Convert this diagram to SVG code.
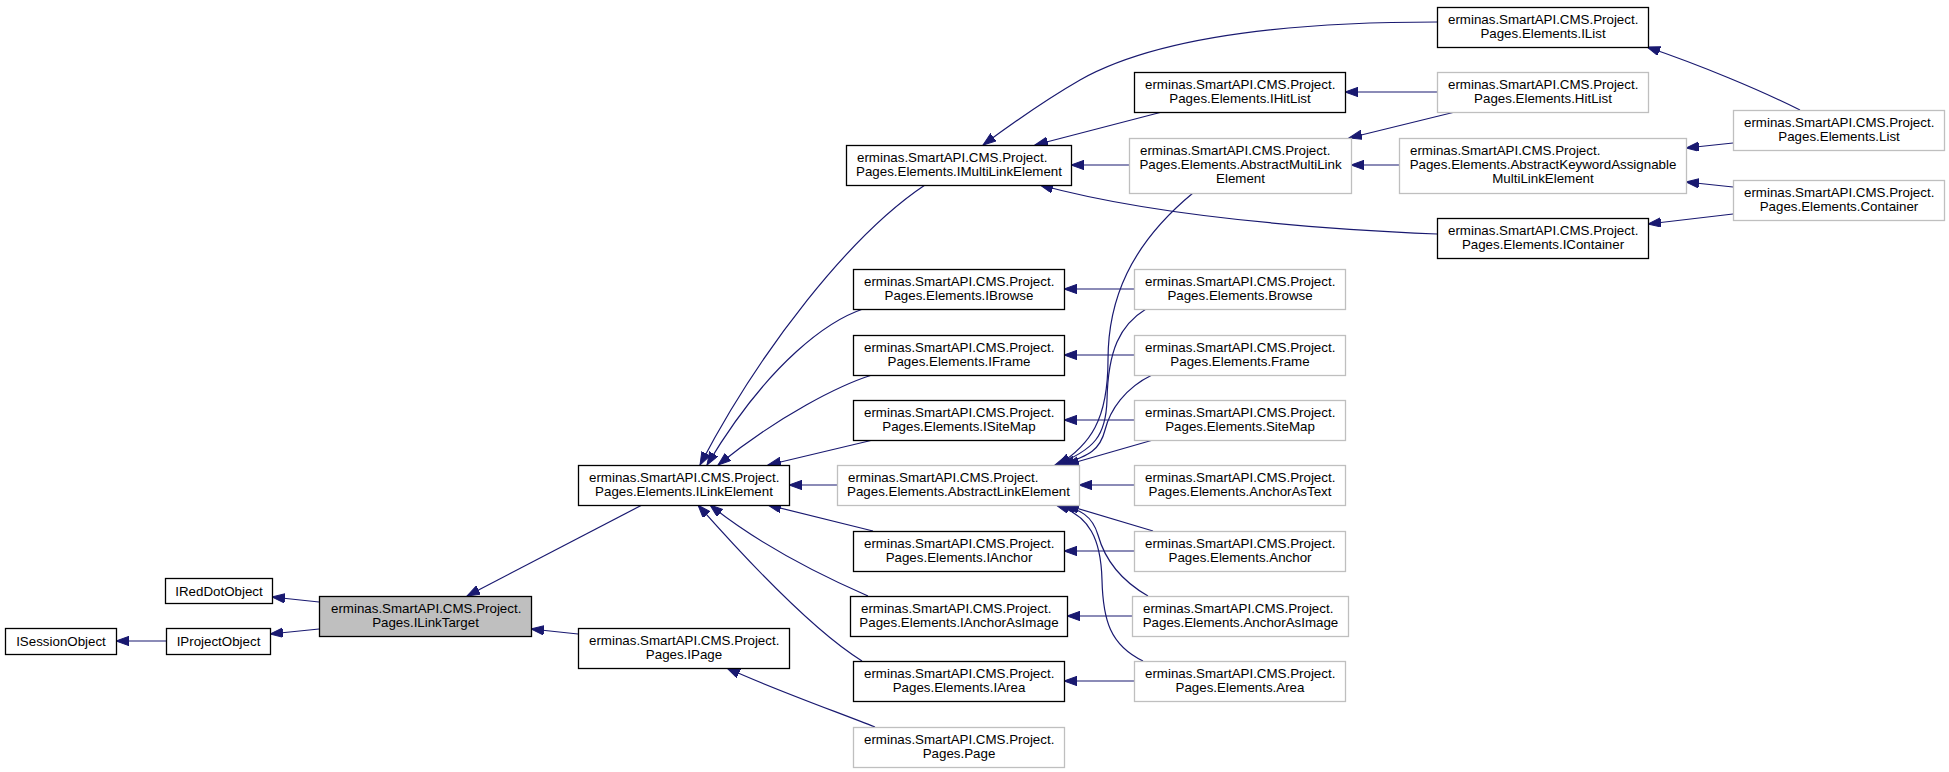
<svg xmlns="http://www.w3.org/2000/svg" width="1949" height="772" viewBox="0 0 1949 772">
<style>
text{font-family:"Liberation Sans",Arial,sans-serif;font-size:13.33px;fill:#000}
.m{text-anchor:middle}
.n rect{fill:#fff;stroke:#000;stroke-width:1.3}
.g rect{fill:#fff;stroke:#bfbfbf;stroke-width:1.3}
.c rect{fill:#bfbfbf;stroke:#000;stroke-width:1.3}
#edges path{fill:none;stroke:#191970;stroke-width:1.2;marker-end:url(#arr)}
</style>
<defs>
<marker id="arr" markerUnits="userSpaceOnUse" markerWidth="14" markerHeight="10" refX="13" refY="4.67" orient="auto">
<path d="M0,0 L13,4.67 L0,9.33 z" fill="#191970" stroke="#191970" stroke-width="1"/>
</marker>
</defs>
<rect width="1949" height="772" fill="#fff"/>
<g id="edges">
<path d="M319,602 L272,597"/>
<path d="M319,629 L270,634"/>
<path d="M166,641 L116,641"/>
<path d="M642,505 L467,596"/>
<path d="M578,634 L531,629"/>
<path d="M875,727 C840,713 770,688 727,668"/>
<path d="M925,185 C850,235 760,350 700,465"/>
<path d="M863,309 C830,320 770,360 707,465"/>
<path d="M872,375 C840,385 780,415 718,465"/>
<path d="M873,440 L768,465"/>
<path d="M837,485 L789,485"/>
<path d="M873,531 L768,505"/>
<path d="M868,596 C820,575 760,545 710,505"/>
<path d="M862,661 C820,635 760,575 698,505"/>
<path d="M1437,22 C1300,22 1160,35 1080,80 C1040,103 1010,125 983,145"/>
<path d="M1162,112 L1035,145"/>
<path d="M1129,165 L1071,165"/>
<path d="M1437,234 C1300,228 1150,215 1040,185"/>
<path d="M1134,289 L1064,289"/>
<path d="M1134,355 L1064,355"/>
<path d="M1134,420 L1064,420"/>
<path d="M1193,193 C1130,245 1108,300 1108,360 C1108,420 1090,445 1058,465"/>
<path d="M1146,309 C1120,325 1108,350 1107,400 C1106,435 1095,450 1055,465"/>
<path d="M1152,375 C1125,388 1110,410 1105,430 C1100,450 1090,455 1062,465"/>
<path d="M1153,440 L1066,465"/>
<path d="M1134,485 L1079,485"/>
<path d="M1153,531 L1066,505"/>
<path d="M1148,596 C1120,580 1105,560 1098,535 C1092,515 1080,510 1062,505"/>
<path d="M1143,661 C1110,645 1103,620 1102,580 C1101,540 1090,515 1056,505"/>
<path d="M1134,551 L1064,551"/>
<path d="M1132,616 L1067,616"/>
<path d="M1134,681 L1064,681"/>
<path d="M1437,92 L1345,92"/>
<path d="M1455,112 L1349,138"/>
<path d="M1399,165 L1351,165"/>
<path d="M1800,110 C1760,90 1700,65 1647,47"/>
<path d="M1733,143 L1686,148"/>
<path d="M1733,187 L1686,182"/>
<path d="M1733,214 L1648,224"/>
</g>
<g id="ISessionObject" class="n"><rect x="5.5" y="628.5" width="111" height="26"/><text class="m" x="61" y="646">ISessionObject</text></g>
<g id="IProjectObject" class="n"><rect x="166.5" y="628.5" width="104" height="26"/><text class="m" x="218.5" y="646">IProjectObject</text></g>
<g id="IRedDotObject" class="n"><rect x="165.5" y="578.5" width="107" height="25"/><text class="m" x="219" y="595.5">IRedDotObject</text></g>
<g id="ILinkTarget" class="c"><rect x="319.5" y="596.5" width="212" height="40"/><text x="331" y="613">erminas.SmartAPI.CMS.Project.</text><text class="m" x="425.5" y="627">Pages.ILinkTarget</text></g>
<g id="ILinkElement" class="n"><rect x="578.5" y="465.5" width="211" height="40"/><text x="589" y="482">erminas.SmartAPI.CMS.Project.</text><text class="m" x="684" y="496">Pages.Elements.ILinkElement</text></g>
<g id="IPage" class="n"><rect x="578.5" y="628.5" width="211" height="40"/><text x="589" y="645">erminas.SmartAPI.CMS.Project.</text><text class="m" x="684" y="659">Pages.IPage</text></g>
<g id="IMultiLinkElement" class="n"><rect x="846.5" y="145.5" width="225" height="40"/><text x="857" y="162">erminas.SmartAPI.CMS.Project.</text><text class="m" x="959" y="176">Pages.Elements.IMultiLinkElement</text></g>
<g id="IBrowse" class="n"><rect x="853.5" y="269.5" width="211" height="40"/><text x="864" y="286">erminas.SmartAPI.CMS.Project.</text><text class="m" x="959" y="300">Pages.Elements.IBrowse</text></g>
<g id="IFrame" class="n"><rect x="853.5" y="335.5" width="211" height="40"/><text x="864" y="352">erminas.SmartAPI.CMS.Project.</text><text class="m" x="959" y="366">Pages.Elements.IFrame</text></g>
<g id="ISiteMap" class="n"><rect x="853.5" y="400.5" width="211" height="40"/><text x="864" y="417">erminas.SmartAPI.CMS.Project.</text><text class="m" x="959" y="431">Pages.Elements.ISiteMap</text></g>
<g id="AbstractLinkElement" class="g"><rect x="837.5" y="465.5" width="242" height="40"/><text x="848" y="482">erminas.SmartAPI.CMS.Project.</text><text class="m" x="958.5" y="496">Pages.Elements.AbstractLinkElement</text></g>
<g id="IAnchor" class="n"><rect x="853.5" y="531.5" width="211" height="40"/><text x="864" y="548">erminas.SmartAPI.CMS.Project.</text><text class="m" x="959" y="562">Pages.Elements.IAnchor</text></g>
<g id="IAnchorAsImage" class="n"><rect x="850.5" y="596.5" width="217" height="40"/><text x="861" y="613">erminas.SmartAPI.CMS.Project.</text><text class="m" x="959" y="627">Pages.Elements.IAnchorAsImage</text></g>
<g id="IArea" class="n"><rect x="853.5" y="661.5" width="211" height="40"/><text x="864" y="678">erminas.SmartAPI.CMS.Project.</text><text class="m" x="959" y="692">Pages.Elements.IArea</text></g>
<g id="Page" class="g"><rect x="853.5" y="727.5" width="211" height="40"/><text x="864" y="744">erminas.SmartAPI.CMS.Project.</text><text class="m" x="959" y="758">Pages.Page</text></g>
<g id="IHitList" class="n"><rect x="1134.5" y="72.5" width="211" height="40"/><text x="1145" y="89">erminas.SmartAPI.CMS.Project.</text><text class="m" x="1240" y="103">Pages.Elements.IHitList</text></g>
<g id="AbstractMultiLinkElement" class="g"><rect x="1129.5" y="138.5" width="222" height="55"/><text x="1140" y="155">erminas.SmartAPI.CMS.Project.</text><text class="m" x="1240.5" y="169">Pages.Elements.AbstractMultiLink</text><text class="m" x="1240.5" y="183">Element</text></g>
<g id="Browse" class="g"><rect x="1134.5" y="269.5" width="211" height="40"/><text x="1145" y="286">erminas.SmartAPI.CMS.Project.</text><text class="m" x="1240" y="300">Pages.Elements.Browse</text></g>
<g id="Frame" class="g"><rect x="1134.5" y="335.5" width="211" height="40"/><text x="1145" y="352">erminas.SmartAPI.CMS.Project.</text><text class="m" x="1240" y="366">Pages.Elements.Frame</text></g>
<g id="SiteMap" class="g"><rect x="1134.5" y="400.5" width="211" height="40"/><text x="1145" y="417">erminas.SmartAPI.CMS.Project.</text><text class="m" x="1240" y="431">Pages.Elements.SiteMap</text></g>
<g id="AnchorAsText" class="g"><rect x="1134.5" y="465.5" width="211" height="40"/><text x="1145" y="482">erminas.SmartAPI.CMS.Project.</text><text class="m" x="1240" y="496">Pages.Elements.AnchorAsText</text></g>
<g id="Anchor" class="g"><rect x="1134.5" y="531.5" width="211" height="40"/><text x="1145" y="548">erminas.SmartAPI.CMS.Project.</text><text class="m" x="1240" y="562">Pages.Elements.Anchor</text></g>
<g id="AnchorAsImage" class="g"><rect x="1132.5" y="596.5" width="216" height="40"/><text x="1143" y="613">erminas.SmartAPI.CMS.Project.</text><text class="m" x="1240.5" y="627">Pages.Elements.AnchorAsImage</text></g>
<g id="Area" class="g"><rect x="1134.5" y="661.5" width="211" height="40"/><text x="1145" y="678">erminas.SmartAPI.CMS.Project.</text><text class="m" x="1240" y="692">Pages.Elements.Area</text></g>
<g id="IList" class="n"><rect x="1437.5" y="7.5" width="211" height="40"/><text x="1448" y="24">erminas.SmartAPI.CMS.Project.</text><text class="m" x="1543" y="38">Pages.Elements.IList</text></g>
<g id="HitList" class="g"><rect x="1437.5" y="72.5" width="211" height="40"/><text x="1448" y="89">erminas.SmartAPI.CMS.Project.</text><text class="m" x="1543" y="103">Pages.Elements.HitList</text></g>
<g id="AbstractKeywordAssignableMultiLinkElement" class="g"><rect x="1399.5" y="138.5" width="287" height="55"/><text x="1410" y="155">erminas.SmartAPI.CMS.Project.</text><text class="m" x="1543" y="169">Pages.Elements.AbstractKeywordAssignable</text><text class="m" x="1543" y="183">MultiLinkElement</text></g>
<g id="IContainer" class="n"><rect x="1437.5" y="218.5" width="211" height="40"/><text x="1448" y="235">erminas.SmartAPI.CMS.Project.</text><text class="m" x="1543" y="249">Pages.Elements.IContainer</text></g>
<g id="List" class="g"><rect x="1733.5" y="110.5" width="211" height="40"/><text x="1744" y="127">erminas.SmartAPI.CMS.Project.</text><text class="m" x="1839" y="141">Pages.Elements.List</text></g>
<g id="Container" class="g"><rect x="1733.5" y="180.5" width="211" height="40"/><text x="1744" y="197">erminas.SmartAPI.CMS.Project.</text><text class="m" x="1839" y="211">Pages.Elements.Container</text></g>
</svg>
